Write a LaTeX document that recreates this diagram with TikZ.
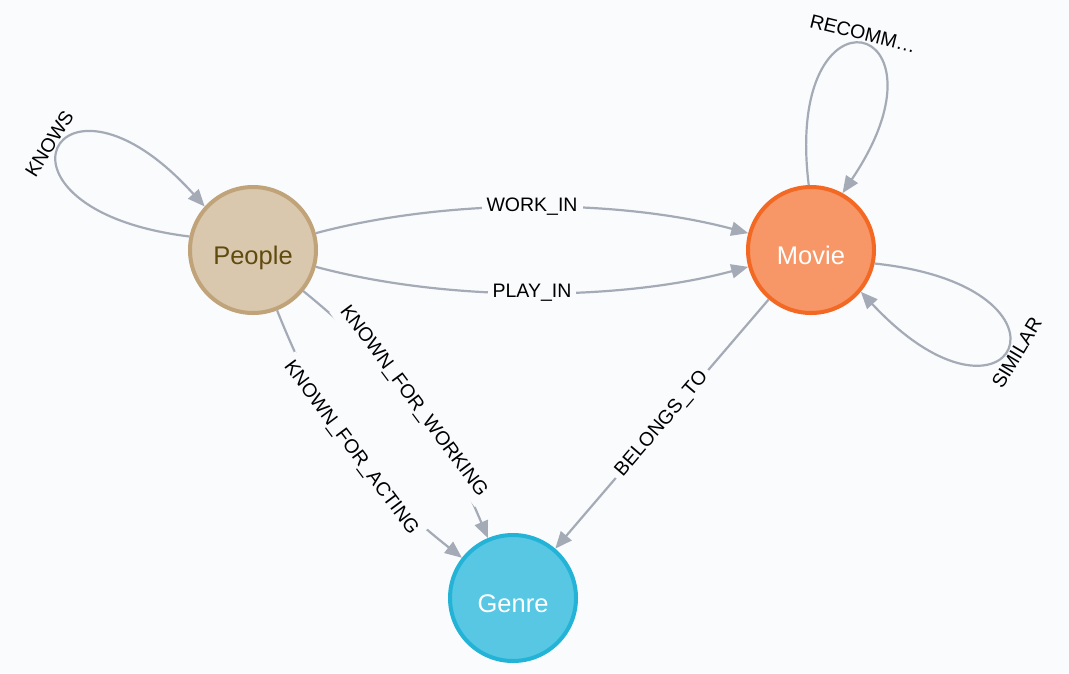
\documentclass[tikz,border=0pt]{standalone}
\usepackage{fontspec}
\setmainfont{Liberation Sans}
\usetikzlibrary{arrows.meta}

\definecolor{bgcol}{HTML}{F9FBFD}
\definecolor{relcol}{HTML}{A5ABB6}
\definecolor{peoplefill}{HTML}{D9C8AE}
\definecolor{peopleline}{HTML}{C0A378}
\definecolor{peopletext}{HTML}{604A0E}
\definecolor{moviefill}{HTML}{F79767}
\definecolor{movieline}{HTML}{F36924}
\definecolor{genrefill}{HTML}{57C7E3}
\definecolor{genreline}{HTML}{23B3D7}

\begin{document}
\begin{tikzpicture}[x=1pt, y=1pt,
			entity/.style={circle, minimum size=126pt, inner sep=0pt, line width=4pt, text height=28pt, text depth=0pt, font=\fontsize{25.5}{28}\selectfont},
			rel/.style={draw=relcol, line width=2.2pt, -{Triangle[length=17pt,width=14pt]}},
			rellabel/.style={fill=bgcol, inner sep=5pt, text=black, font=\fontsize{19.5}{22}\selectfont},
			looplabel/.style={inner sep=3pt, text=black, font=\fontsize{19.5}{22}\selectfont}]
			
			% Canvas
			\fill[bgcol] (0,0) rectangle (1069,-673);
			\useasboundingbox (0,0) rectangle (1069,-673);
			
			% Entity nodes
			\node[entity, fill=peoplefill, draw=peopleline, text=peopletext] (people) at (253,-250) {People};
			\node[entity, fill=moviefill, draw=movieline, text=white] (movie) at (811,-250) {Movie};
			\node[entity, fill=genrefill, draw=genreline, text=white] (genre) at (513,-598) {Genre};
			
			% Relationships between entities
			\draw[rel] (people) to[out=15, in=165, looseness=0.8] node[rellabel] {WORK\_IN} (movie);
			\draw[rel] (people) to[out=-15, in=-165, looseness=0.8] node[rellabel] {PLAY\_IN} (movie);
			\draw[rel] (people) to[bend right=15] node[rellabel, sloped] {KNOWN\_FOR\_ACTING} (genre);
			\draw[rel] (people) to[bend left=14] node[rellabel, sloped] {KNOWN\_FOR\_WORKING} (genre);
			\draw[rel] (movie) -- node[rellabel, sloped] {BELONGS\_TO} (genre);
			
			% Self loops (straight legs, round end)
			\draw[rel] (people.168) to[out=173, in=132, min distance=222pt] node[looplabel, pos=0.5, rotate=58, anchor=south] {KNOWS} (people.138);
			\draw[rel] (movie.92) to[out=97, in=56, min distance=212pt] node[looplabel, pos=0.5, rotate=-14, anchor=south] {RECOMM…} (movie.61);
			\draw[rel] (movie.-12) to[out=-6, in=-47, min distance=222pt] node[looplabel, pos=0.5, rotate=59, anchor=north] {SIMILAR} (movie.-40);
			
		\end{tikzpicture}
\end{document}
